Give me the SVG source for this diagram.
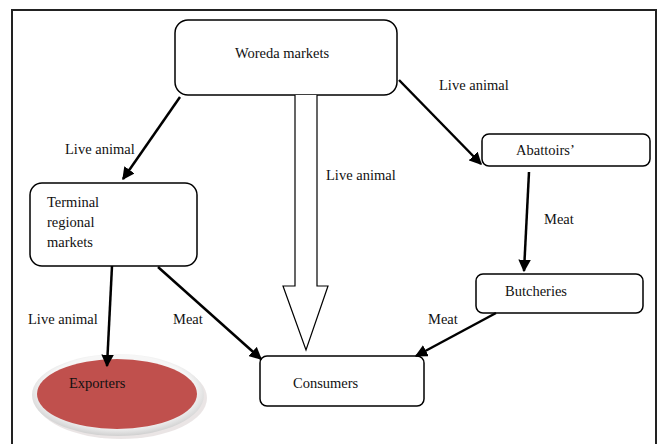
<svg xmlns="http://www.w3.org/2000/svg" width="660" height="444" viewBox="0 0 660 444">
<defs>
<style>
text{font-family:"Liberation Serif","Times New Roman",serif;font-size:14.5px;fill:#111}
.box{fill:#fff;stroke:#000;stroke-width:1.5}
.conn{stroke:#000;stroke-width:2.5;fill:none;marker-end:url(#ah)}
</style>
<marker id="ah" viewBox="0 0 10 10" refX="9" refY="5" markerWidth="5" markerHeight="5" markerUnits="strokeWidth" orient="auto">
<path d="M0,0 L10,5 L0,10 z" fill="#000"/>
</marker>
<radialGradient id="rim" cx="0.5" cy="0.45" r="0.55">
<stop offset="0.8" stop-color="#f6f6f6"/>
<stop offset="1" stop-color="#d0d0d0"/>
</radialGradient>
</defs>
<rect x="0" y="0" width="660" height="444" fill="#fff"/>
<path d="M12,444 L12,10 L656,10 L656,444" fill="none" stroke="#222" stroke-width="2"/>

<g id="woreda">
<rect class="box" x="175" y="20" width="222" height="75" rx="13"/>
<text x="282" y="58" text-anchor="middle">Woreda markets</text>
</g>
<g id="terminal">
<rect class="box" x="30" y="183" width="167" height="83" rx="12"/>
<text x="47" y="207">Terminal</text>
<text x="47" y="227">regional</text>
<text x="47" y="247">markets</text>
</g>
<g id="abattoirs">
<rect class="box" x="482" y="134" width="168" height="32" rx="7"/>
<text x="516" y="155">Abattoirs’</text>
</g>
<g id="butcheries">
<rect class="box" x="476" y="274" width="167" height="39" rx="7"/>
<text x="505" y="296">Butcheries</text>
</g>
<g id="consumers">
<rect class="box" x="260" y="356" width="164" height="50" rx="7"/>
<text x="293" y="388">Consumers</text>
</g>
<g id="exporters">
<ellipse cx="121" cy="398" rx="86" ry="41" fill="#b9a9a9" opacity="0.3"/>
<ellipse cx="118" cy="395" rx="86" ry="41" fill="url(#rim)"/>
<ellipse cx="117" cy="394" rx="80" ry="35" fill="#c0504d"/>
<text x="69" y="388">Exporters</text>
</g>

<g id="connectors">
<line class="conn" x1="180" y1="97" x2="123" y2="179"/>
<line class="conn" x1="399" y1="80" x2="481" y2="164"/>
<line class="conn" x1="529" y1="172" x2="524" y2="271"/>
<line class="conn" x1="112" y1="266" x2="107" y2="366"/>
<line class="conn" x1="158" y1="267" x2="261" y2="359"/>
<line class="conn" x1="496" y1="313" x2="416" y2="356"/>
<path d="M295,95 L295,286 L283,286 L306,350 L328,286 L317,286 L317,95" fill="#fff" stroke="#000" stroke-width="1.2"/>
</g>

<g id="labels">
<text x="439" y="90">Live animal</text>
<text x="65" y="154">Live animal</text>
<text x="326" y="180">Live animal</text>
<text x="544" y="224">Meat</text>
<text x="28" y="324">Live animal</text>
<text x="173" y="324">Meat</text>
<text x="428" y="324">Meat</text>
</g>
</svg>
